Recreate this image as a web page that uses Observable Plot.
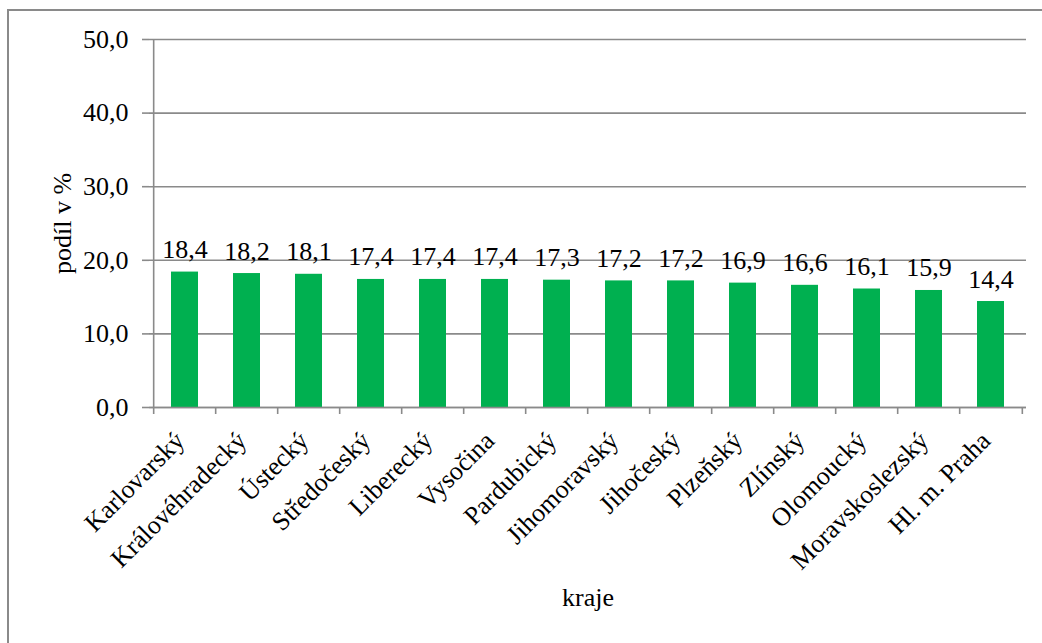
<!DOCTYPE html>
<html>
<head>
<meta charset="utf-8">
<script src="https://cdn.jsdelivr.net/npm/d3@7"></script>
<script src="https://cdn.jsdelivr.net/npm/@observablehq/plot@0.6"></script>
<style>
  html, body { margin: 0; padding: 0; background: #fff; overflow: hidden; }
  #wrap { position: relative; width: 1042px; height: 643px; }
  #border { position: absolute; left: 7px; top: 9px; width: 1100px; height: 700px; border: 2px solid #8a8a8a; box-sizing: border-box; }
  #chart { position: absolute; left: 0; top: 0; }
  #chart svg text { font-family: "Times New Roman", "Liberation Serif", "DejaVu Serif", serif !important; font-size: 26px !important; }
</style>
</head>
<body>
<div id="wrap"><div id="border"></div><div id="chart"></div></div>
<script>
const categories = ["Karlovarský","Královéhradecký","Ústecký","Středočeský","Liberecký","Vysočina","Pardubický","Jihomoravský","Jihočeský","Plzeňský","Zlínský","Olomoucký","Moravskoslezský","Hl. m. Praha"];
const values = [18.4, 18.2, 18.1, 17.4, 17.4, 17.4, 17.3, 17.2, 17.2, 16.9, 16.6, 16.1, 15.9, 14.4];
const yTicks = [0, 10, 20, 30, 40, 50];
const yTitle = "podíl v %";
const xTitle = "kraje";

const data = categories.map((k, i) => ({k, v: values[i]}));
const fmt = d => d.toFixed(1).replace(".", ",");

const W = 1042, H = 643, ML = 149, MR = 16, MT = 39, MB = 236;
const step = (W - ML - MR) / categories.length;
const grey = "#8a8a8a";

const chart = Plot.plot({
  width: W, height: H,
  marginLeft: ML, marginRight: MR, marginTop: MT, marginBottom: MB,
  style: {fontFamily: "Times New Roman, Liberation Serif, serif", fontSize: "26px", color: "#000", background: "transparent"},
  x: {domain: categories, paddingInner: 0.57, paddingOuter: 0.285, label: null},
  y: {domain: [0, 50], label: null},
  marks: [
    Plot.gridY(yTicks, {stroke: grey, strokeOpacity: 1, strokeWidth: 1.6}),
    Plot.barY(data, {x: "k", y: "v", fill: "#00B050"}),
    Plot.ruleY([0], {stroke: grey, strokeWidth: 1.6}),
    Plot.ruleX([categories[0]], {y1: 0, y2: 50, dx: -step / 2, stroke: grey, strokeWidth: 1.6}),
    Plot.ruleX(categories, {x: d => d, y1: 0, y2: -0.95, dx: -step / 2, stroke: grey, strokeWidth: 1.6}),
    Plot.ruleX([categories[categories.length - 1]], {x: d => d, y1: 0, y2: -0.95, dx: step / 2, stroke: grey, strokeWidth: 1.6}),
    Plot.axisY(yTicks, {tickSize: 7, tickPadding: 14, tickFormat: fmt, stroke: grey, strokeWidth: 1.6, fontSize: 26, label: null}),
    Plot.axisX({tickRotate: -45, tickSize: 0, tickPadding: 29, dx: -5, fontSize: 26, label: null}),
    Plot.text(data, {x: "k", y: "v", text: d => fmt(d.v), dy: -14, lineAnchor: "bottom", fontSize: 26}),
    Plot.text([yTitle], {frameAnchor: "left", dx: -87, rotate: -90, textAnchor: "middle", fontSize: 26}),
    Plot.text([xTitle], {frameAnchor: "bottom", dy: 198, textAnchor: "middle", fontSize: 26})
  ]
});
document.getElementById("chart").appendChild(chart);
</script>
</body>
</html>
